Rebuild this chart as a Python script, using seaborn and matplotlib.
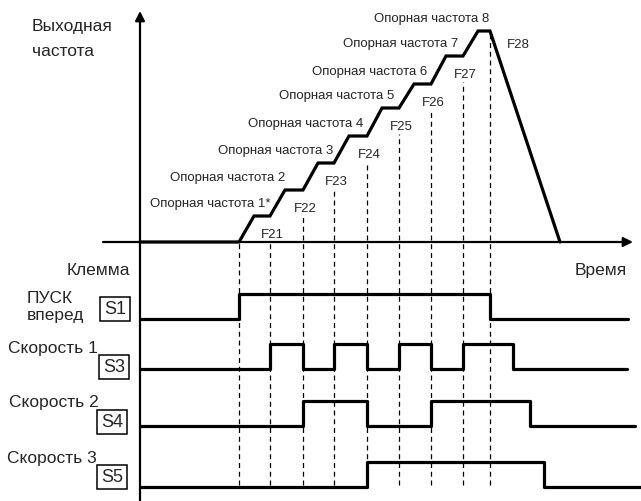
import matplotlib
matplotlib.use("Agg")
import matplotlib.pyplot as plt
import pandas as pd
import seaborn as sns

# ---- данные диаграммы ----
# моменты переключения скоростей (условные единицы времени)
step_times = [99, 130, 163, 194, 227, 259, 291, 323]
ref_freq = [26, 52, 79, 106, 134, 158, 186, 211]      # опорные частоты 1..8 (отн. ед.)
ramp = 15                                               # время разгона между ступенями
stop_time = 350
decel_end = 420
ref_labels = ["Опорная частота 1*", "Опорная частота 2", "Опорная частота 3",
              "Опорная частота 4", "Опорная частота 5", "Опорная частота 6",
              "Опорная частота 7", "Опорная частота 8"]
ramp_labels = ["F21", "F22", "F23", "F24", "F25", "F26", "F27", "F28"]

# состояния клемм на каждой ступени
run_fwd = [1, 1, 1, 1, 1, 1, 1, 1]
speed1 = [0, 1, 0, 1, 0, 1, 0, 1]
speed2 = [0, 0, 1, 1, 0, 0, 1, 1]
speed3 = [0, 0, 0, 0, 1, 1, 1, 1]
release = [350, 373, 390, 404]          # отключение S1, S3, S4, S5
trace_end = [488, 487, 495, 505]
row_names = ["ПУСК\nвперед", "Скорость 1", "Скорость 2", "Скорость 3"]
terminals = ["S1", "S3", "S4", "S5"]

# ---- раскладка (в пикселях картинки) ----
X0 = 140            # положение оси частоты
Y0 = 243            # положение оси времени
row_base = [320, 370, 427, 488]
amp = 25
name_pos = [(27, 303), (8, 353), (9, 407), (7, 463)]
box_pos = [(115, 310), (114, 368), (112, 423), (112, 478)]
ref_label_right = [270, 285, 333, 363, 394, 427, 458, 489]

sns.set_theme(style="white")
plt.rcParams['font.family'] = ['Liberation Sans', 'DejaVu Sans']

fig = plt.figure(figsize=(6.41, 5.02), dpi=100)
ax = fig.add_axes([0, 0, 1, 1])
ax.set_xlim(-X0, 641 - X0)
ax.set_ylim(502, 0)
ax.set_axis_off()

ax_f = fig.add_axes([0, 0, 1, 1], sharex=ax)
ax_f.set_ylim(Y0 - 502, Y0)
ax_f.set_axis_off()
ax_f.patch.set_alpha(0)

# оси со стрелками
arrow = dict(arrowstyle="-|>", lw=1.6, color="black", mutation_scale=14, shrinkA=0, shrinkB=0)
ax.annotate("", xy=(0, 12), xytext=(0, 502), arrowprops=arrow)
ax.annotate("", xy=(633 - X0, Y0), xytext=(103 - X0, Y0), arrowprops=arrow)

# кривая выходной частоты
t = [0]
f = [0]
prev = 0
for st, fr in zip(step_times, ref_freq):
    t += [st, st + ramp]
    f += [prev, fr]
    prev = fr
t += [stop_time, decel_end]
f += [prev, 0]
curve = pd.DataFrame({"t": t, "f": f})
sns.lineplot(data=curve, x="t", y="f", ax=ax_f, sort=False, estimator=None,
             color="black", linewidth=2.3, solid_joinstyle="miter")

# пунктирные линии моментов переключения
dash_top = [0] + [fr - 26 for fr in ref_freq[:-1]]
for st, top in zip(step_times, dash_top):
    ax_f.plot([st, st], [Y0 - 486, top], color="black", lw=0.9, ls=(0, (4, 3)))
ax_f.plot([stop_time, stop_time], [Y0 - 486, ref_freq[-1]], color="black", lw=0.9, ls=(0, (4, 3)))

# подписи опорных частот и времён разгона
for lab, fr, xr in zip(ref_labels, ref_freq, ref_label_right):
    ax_f.text(xr - X0, fr + 10, lab, ha="right", va="baseline", fontsize=9.5)
for lab, st, fr in zip(ramp_labels[:-1], step_times[1:], ref_freq[:-1]):
    ax_f.text(st + 2, fr - 21, lab, ha="center", va="baseline", fontsize=9.5)
ax_f.text(507 - X0, ref_freq[-1] - 16, ramp_labels[-1], ha="left", va="baseline", fontsize=9.5)

# временные диаграммы клемм
for i, states in enumerate([run_fwd, speed1, speed2, speed3]):
    times = [0] + step_times + [release[i], trace_end[i]]
    vals = [0] + states + [0, 0]
    trace = pd.DataFrame({"t": times, "y": [row_base[i] - amp * v for v in vals]})
    sns.lineplot(data=trace, x="t", y="y", ax=ax, sort=False, estimator=None,
                 drawstyle="steps-post", color="black", linewidth=2.3)
    nx, ny = name_pos[i]
    if "\n" in row_names[i]:
        l1, l2 = row_names[i].split("\n")
        ax.text(nx - X0, ny, l1, ha="left", va="baseline", fontsize=12.5)
        ax.text(nx - X0, ny + 17, l2, ha="left", va="baseline", fontsize=12.5)
    else:
        ax.text(nx - X0, ny, row_names[i], ha="left", va="baseline", fontsize=12.5)
    bx, by = box_pos[i]
    ax.text(bx - X0, by, terminals[i], ha="center", va="center", fontsize=13,
            bbox=dict(boxstyle="square,pad=0.22", fc="white", ec="black", lw=1.1))

# заголовки осей
ax.text(32 - X0, 31, "Выходная", ha="left", va="baseline", fontsize=12.5)
ax.text(32 - X0, 56, "частота", ha="left", va="baseline", fontsize=12.5)
ax.text(130 - X0, 275, "Клемма", ha="right", va="baseline", fontsize=12.5)
ax.text(575 - X0, 275, "Время", ha="left", va="baseline", fontsize=12.5)

ax.set_xlabel("")
ax.set_ylabel("")
ax_f.set_xlabel("")
ax_f.set_ylabel("")

fig.savefig("out.png", dpi=100)
